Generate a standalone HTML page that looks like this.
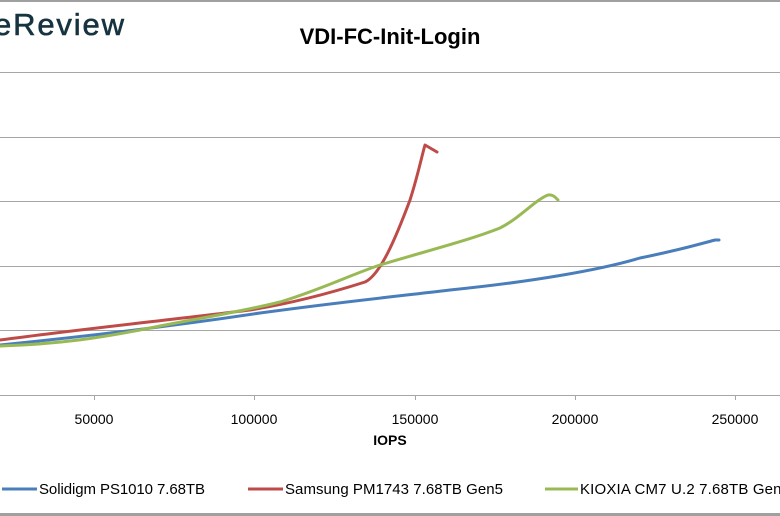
<!DOCTYPE html>
<html><head><style>
html,body{margin:0;padding:0;background:#fff;}
body{width:780px;height:516px;overflow:hidden;position:relative;font-family:"Liberation Sans",sans-serif;}
</style></head><body>
<svg width="780" height="516" viewBox="0 0 780 516" xmlns="http://www.w3.org/2000/svg" style="position:absolute;left:0;top:0">
<rect x="0" y="0" width="780" height="2" fill="#a0a0a0"/>
<rect x="0" y="513" width="780" height="3" fill="#a0a0a0"/>
<text x="-6" y="35" font-family="Liberation Sans,sans-serif" font-size="31" fill="#173340" stroke="#173340" stroke-width="0.6" textLength="130">eReview</text>
<text x="390" y="44" text-anchor="middle" font-family="Liberation Sans,sans-serif" font-weight="bold" font-size="22" fill="#000">VDI-FC-Init-Login</text>
<g stroke="#a6a6a6" stroke-width="1">
<line x1="0" y1="72.5" x2="780" y2="72.5"/>
<line x1="0" y1="137.5" x2="780" y2="137.5"/>
<line x1="0" y1="201.5" x2="780" y2="201.5"/>
<line x1="0" y1="266.5" x2="780" y2="266.5"/>
<line x1="0" y1="330.5" x2="780" y2="330.5"/>
<line x1="0" y1="395.5" x2="780" y2="395.5"/>
<line x1="94.5" y1="395" x2="94.5" y2="400"/>
<line x1="254.5" y1="395" x2="254.5" y2="400"/>
<line x1="415.5" y1="395" x2="415.5" y2="400"/>
<line x1="575.5" y1="395" x2="575.5" y2="400"/>
<line x1="735.5" y1="395" x2="735.5" y2="400"/>
</g>
<g font-family="Liberation Sans,sans-serif" font-size="14" fill="#000" text-anchor="middle">
<text x="94" y="424">50000</text>
<text x="254" y="424">100000</text>
<text x="415" y="424">150000</text>
<text x="575" y="424">200000</text>
<text x="735" y="424">250000</text>
<text x="390" y="445" font-weight="bold">IOPS</text>
</g>
<g fill="none" stroke-width="3" stroke-linecap="round" stroke-linejoin="round">
<path d="M0,345 C100,335 180,325 260,313 C340,302 400,296 450,290 C530,282 600,270 640,258 C680,250 700,244 715,240 L719,240" stroke="#4a7ebb"/>
<path d="M0,340 C90,328 170,320 250,310 C300,302 340,290 365,282 C380,275 395,240 410,200 C418,175 422,155 425,145 L437,152" stroke="#be4b48"/>
<path d="M0,346 C60,344 100,338 150,328 C200,318 240,312 280,302 C320,290 350,275 380,265 C430,250 470,240 500,228 C520,218 535,200 548,195 C553,194 556,198 558,200" stroke="#98b954"/>
</g>
<g font-family="Liberation Sans,sans-serif" font-size="15" fill="#000">
<line x1="2" y1="489" x2="37" y2="489" stroke="#4a7ebb" stroke-width="3"/>
<text x="39" y="494" textLength="166">Solidigm PS1010 7.68TB</text>
<line x1="248" y1="489" x2="283" y2="489" stroke="#be4b48" stroke-width="3"/>
<text x="285" y="494" textLength="218">Samsung PM1743 7.68TB Gen5</text>
<line x1="545" y1="489" x2="578" y2="489" stroke="#98b954" stroke-width="3"/>
<text x="580" y="494" textLength="210">KIOXIA CM7 U.2 7.68TB Gen5</text>
</g>
</svg>
</body></html>
